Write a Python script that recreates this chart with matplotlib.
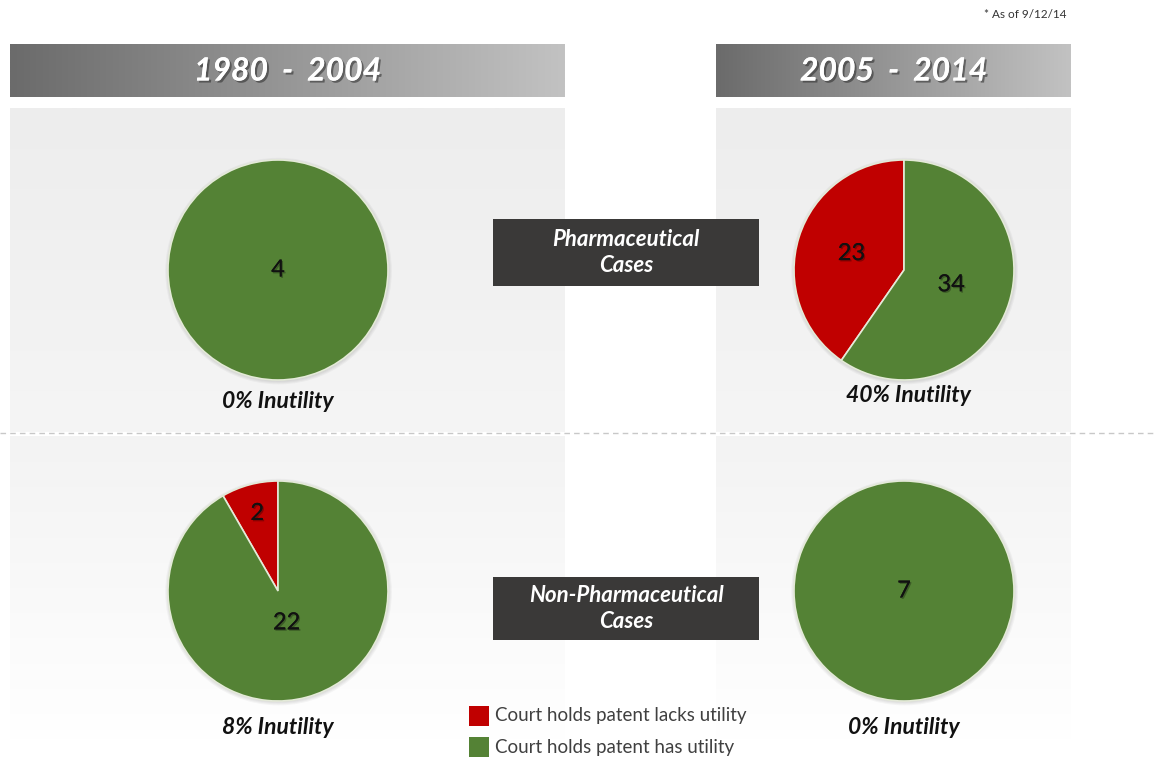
import numpy as np
import matplotlib
matplotlib.use('Agg')
import matplotlib.pyplot as plt
import matplotlib.patheffects as pe
from matplotlib.patches import Rectangle, Circle

plt.rcParams['font.family'] = ['Lato', 'DejaVu Sans']

# data
periods = ['1980  -  2004', '2005  -  2014']
case_types = ['Pharmaceutical\nCases', 'Non-Pharmaceutical\nCases']
lacks_utility = [[0, 23], [2, 0]]   # rows: case type, cols: period
has_utility = [[4, 34], [22, 7]]
legend_labels = ['Court holds patent lacks utility', 'Court holds patent has utility']
note = '* As of 9/12/14'

RED = '#c00000'
GREEN = '#548235'

W, H = 1157, 763
fig = plt.figure(figsize=(W / 100, H / 100), dpi=100)
bg = fig.add_axes([0, 0, 1, 1])
bg.set_xlim(0, W)
bg.set_ylim(H, 0)
bg.axis('off')


def vgrad(x0, x1, y0, y1, c0, c1, horizontal=False, z=0):
    n = 256
    t = np.linspace(0, 1, n)
    c0 = np.array(matplotlib.colors.to_rgb(c0))
    c1 = np.array(matplotlib.colors.to_rgb(c1))
    cols = c0[None, :] * (1 - t[:, None]) + c1[None, :] * t[:, None]
    img = cols[None, :, :] if horizontal else cols[:, None, :]
    bg.imshow(img, extent=(x0, x1, y1, y0), aspect='auto', zorder=z,
              interpolation='bilinear')


col_x = [(10, 565), (716, 1071)]
row_y = [270, 591]
col_cx = [278, 904]

# header bars + panels
for (x0, x1), label in zip(col_x, periods):
    vgrad(x0, x1, 44, 97, '#6b6b6b', '#c2c2c2', horizontal=True, z=1)
    bg.text((x0 + x1) / 2, 71, label, ha='center', va='center', color='white',
            fontsize=23, fontweight='bold', style='italic', zorder=3,
            path_effects=[pe.withSimplePatchShadow(offset=(1.5, -1.5),
                                                   shadow_rgbFace='#333333', alpha=0.6),
                          pe.Normal()])
    vgrad(x0, x1, 108, 432, '#ededed', '#f5f5f5', z=1)
    vgrad(x0, x1, 436, 740, '#f3f3f3', '#ffffff', z=1)

bg.axhline(433, color='#c8c8c8', lw=1, ls=(0, (4, 3)), zorder=2)

bg.text(1066, 14, note, ha='right', va='center', fontsize=8.5, color='#333333')

# category boxes
for y0, y1, label in [(219, 286, case_types[0]), (577, 640, case_types[1])]:
    bg.add_patch(Rectangle((493, y0), 266, y1 - y0, facecolor='#3a3938',
                           edgecolor='none', zorder=3))
    bg.text(626, (y0 + y1) / 2, label, ha='center', va='center', color='white',
            fontsize=16, fontweight='bold', style='italic', linespacing=1.3, zorder=4)

# legend
for i, (c, lab) in enumerate(zip([RED, GREEN], legend_labels)):
    y = 716 + 31 * i
    bg.add_patch(Rectangle((469, y - 10), 20, 20, facecolor=c, edgecolor='none', zorder=3))
    bg.text(495, y, lab, ha='left', va='center', fontsize=13.5, color='#404040', zorder=3)

# pies
label_r = {(0, 1): [0.5, 0.45], (1, 0): [0.73, 0.3]}
size = 264
for r, cy in enumerate(row_y):
    for c, cx in enumerate(col_cx):
        vals = [lacks_utility[r][c], has_utility[r][c]]
        cols = [RED, GREEN]
        keep = [i for i, v in enumerate(vals) if v > 0]
        vals_k = [vals[i] for i in keep]
        cols_k = [cols[i] for i in keep]
        ax = fig.add_axes([(cx - size / 2) / W, 1 - (cy + size / 2) / H, size / W, size / H])
        ax.axis('off')
        # soft shadow
        for k in range(4):
            ax.add_patch(Circle((0.005, -0.01), 1.0 + 0.01 * k, facecolor='#000000',
                                alpha=0.035, edgecolor='none', zorder=0))
        wedges, texts = ax.pie(vals_k, colors=cols_k, startangle=90, radius=1,
                               labels=[str(v) for v in vals_k], labeldistance=0,
                               wedgeprops=dict(edgecolor='#e4ead8', linewidth=1.2),
                               textprops=dict(fontsize=17, color='#111111'))
        ax.set_xlim(-1.2, 1.2)
        ax.set_ylim(-1.2, 1.2)
        ax.set_aspect('equal')
        rs = label_r.get((r, c))
        if rs is not None:
            for w, t, rr in zip(wedges, texts, rs):
                ang = np.deg2rad((w.theta1 + w.theta2) / 2)
                t.set_position((rr * np.cos(ang), rr * np.sin(ang)))
        for t in texts:
            t.set_ha('center')
            t.set_va('center')
            t.set_path_effects([pe.withSimplePatchShadow(offset=(1, -1), alpha=0.3), pe.Normal()])
        total = sum(vals)
        pct = int(round(100 * vals[0] / total))
        cap_y = cy + 132 if r == 0 else cy + 137
        bg.text(cx + (4 if (r, c) == (0, 1) else 0), cap_y - (6 if (r, c) == (0, 1) else 0),
                f'{pct}% Inutility', ha='center', va='center', fontsize=16.5,
                fontweight='bold', style='italic', color='#111111', zorder=3)

fig.savefig('out.png', dpi=100)
